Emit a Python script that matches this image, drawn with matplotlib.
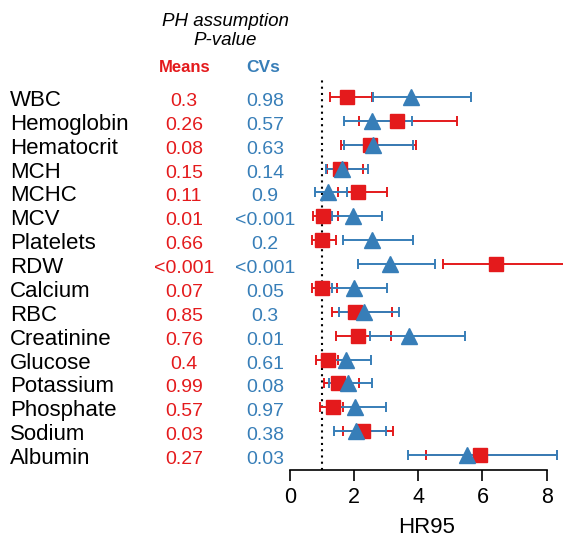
import matplotlib
matplotlib.use("Agg")
import matplotlib.pyplot as plt

plt.rcParams['font.family'] = ['Liberation Sans', 'DejaVu Sans']

variables = ["WBC", "Hemoglobin", "Hematocrit", "MCH", "MCHC", "MCV", "Platelets", "RDW",
             "Calcium", "RBC", "Creatinine", "Glucose", "Potassium", "Phosphate", "Sodium", "Albumin"]
p_means = ["0.3", "0.26", "0.08", "0.15", "0.11", "0.01", "0.66", "<0.001",
           "0.07", "0.85", "0.76", "0.4", "0.99", "0.57", "0.03", "0.27"]
p_cvs = ["0.98", "0.57", "0.63", "0.14", "0.9", "<0.001", "0.2", "<0.001",
         "0.05", "0.3", "0.01", "0.61", "0.08", "0.97", "0.38", "0.03"]

means_hr = [1.77, 3.33, 2.49, 1.56, 2.11, 1.04, 0.99, 6.41, 0.99, 2.03, 2.11, 1.17, 1.49, 1.35, 2.29, 5.92]
means_lo = [1.25, 2.15, 1.60, 1.15, 1.51, 0.73, 0.68, 4.78, 0.70, 1.32, 1.43, 0.81, 1.06, 0.94, 1.64, 4.23]
means_hi = [2.55, 5.22, 3.92, 2.27, 3.03, 1.51, 1.43, 8.90, 1.45, 3.17, 3.15, 1.50, 2.15, 1.65, 3.20, 8.33]

cvs_hr = [3.76, 2.55, 2.58, 1.63, 1.19, 1.97, 2.55, 3.12, 2.00, 2.31, 3.71, 1.74, 1.80, 2.03, 2.06, 5.53]
cvs_lo = [2.58, 1.69, 1.69, 1.12, 0.78, 1.32, 1.66, 2.11, 1.30, 1.54, 2.49, 1.19, 1.22, 1.35, 1.38, 3.67]
cvs_hi = [5.63, 3.81, 3.84, 2.44, 1.79, 2.88, 3.84, 4.52, 3.01, 3.40, 5.46, 2.52, 2.57, 2.98, 2.99, 8.33]

xticks = [0, 2, 4, 6, 8]

RED = "#E41A1C"
BLUE = "#377EB8"

W, H = 563, 538
fig = plt.figure(figsize=(W / 100, H / 100), dpi=100)

def fx(px):
    return px / W

def fy(py):
    return 1 - py / H

# axes: x 0 at px 290, 32.08 px per unit; rows at 97 + step*i
row0, step = 97, 23.87
ax_left, ax_right = 290, 563
ax_top, ax_bottom = 80, 470
ax = fig.add_axes([fx(ax_left), fy(ax_bottom), (ax_right - ax_left) / W, (ax_bottom - ax_top) / H])
ppu = 32.08
ax.set_xlim(0, (ax_right - ax_left) / ppu)
ax.set_ylim((ax_bottom - row0) / step, (ax_top - row0) / step)

n = len(variables)
ys = list(range(n))

ax.axvline(1, color="black", linestyle=(0, (1, 2)), linewidth=1.5, ymin=0, ymax=1.0, clip_on=False, zorder=1)

m_err = [[m - l for m, l in zip(means_hr, means_lo)], [h - m for m, h in zip(means_hr, means_hi)]]
c_err = [[m - l for m, l in zip(cvs_hr, cvs_lo)], [h - m for m, h in zip(cvs_hr, cvs_hi)]]

ax.errorbar(means_hr, ys, xerr=m_err, fmt="none", ecolor=RED, elinewidth=1.4, capsize=3.5, capthick=1.4, zorder=2)
ax.errorbar(cvs_hr, ys, xerr=c_err, fmt="none", ecolor=BLUE, elinewidth=1.4, capsize=3.5, capthick=1.4, zorder=3)
ax.plot(means_hr, ys, linestyle="none", marker="s", markersize=10, color=RED, zorder=4)
ax.plot(cvs_hr, ys, linestyle="none", marker="^", markersize=12, color=BLUE, zorder=5)

for s in ["top", "right", "left"]:
    ax.spines[s].set_visible(False)
ax.spines["bottom"].set_bounds(0, 8)
ax.spines["bottom"].set_linewidth(1.2)
ax.set_yticks([])
ax.set_xticks(xticks)
ax.set_xticklabels([str(t) for t in xticks])
ax.tick_params(axis="x", length=8, width=1.2, labelsize=15.5, pad=4)
ax.set_xlabel("HR95", fontsize=16, labelpad=7)

# text columns (baselines)
for i, (v, pm, pc) in enumerate(zip(variables, p_means, p_cvs)):
    y = fy(row0 + 9 + step * i)
    fig.text(fx(10), y, v, fontsize=16, color="black", ha="left", va="baseline")
    fig.text(fx(184), y, pm, fontsize=14, color=RED, ha="center", va="baseline")
    fig.text(fx(265), y, pc, fontsize=14, color=BLUE, ha="center", va="baseline")

fig.text(fx(225), fy(26), "PH assumption", fontsize=13.5, style="italic", ha="center", va="baseline")
fig.text(fx(225), fy(45), "P-value", fontsize=13.5, style="italic", ha="center", va="baseline")
fig.text(fx(185), fy(72.5), "Means", fontsize=12, weight="bold", color=RED, ha="center", va="baseline")
fig.text(fx(263), fy(72.5), "CVs", fontsize=12.5, weight="bold", color=BLUE, ha="center", va="baseline")

fig.savefig("out.png", dpi=100)
